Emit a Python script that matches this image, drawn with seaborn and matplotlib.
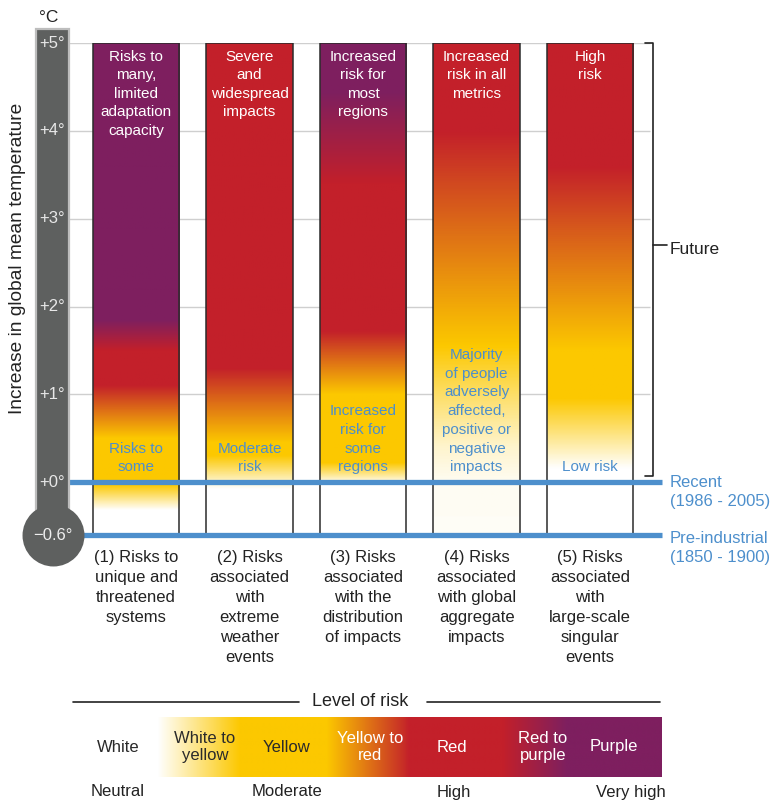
import numpy as np
import matplotlib
matplotlib.use("Agg")
import matplotlib.pyplot as plt
from matplotlib.colors import LinearSegmentedColormap
import seaborn as sns

# Reasons for concern (one bar each)
categories = [
    "(1) Risks to\nunique and\nthreatened\nsystems",
    "(2) Risks\nassociated\nwith\nextreme\nweather\nevents",
    "(3) Risks\nassociated\nwith the\ndistribution\nof impacts",
    "(4) Risks\nassociated\nwith global\naggregate\nimpacts",
    "(5) Risks\nassociated\nwith\nlarge-scale\nsingular\nevents",
]
top_labels = [
    "Risks to\nmany,\nlimited\nadaptation\ncapacity",
    "Severe\nand\nwidespread\nimpacts",
    "Increased\nrisk for\nmost\nregions",
    "Increased\nrisk in all\nmetrics",
    "High\nrisk",
]
low_labels = [
    "Risks to\nsome",
    "Moderate\nrisk",
    "Increased\nrisk for\nsome\nregions",
    "Majority\nof people\nadversely\naffected,\npositive or\nnegative\nimpacts",
    "Low risk",
]

# colour stops in each bar: temperature (°C) -> risk level (0 white, 1 yellow, 2 red, 3 purple)
stop_temps = [
    [-0.6, -0.32, -0.03, 0.5, 1.1, 1.5, 1.85, 5.0],
    [-0.6, -0.08, 0.3, 0.45, 1.3, 5.0],
    [-0.6, -0.02, 0.22, 1.0, 1.72, 3.4, 4.45, 5.0],
    [-0.6, 0.0, 0.4, 1.0, 1.55, 4.0, 5.0],
    [-0.6, 0.15, 0.95, 1.5, 3.6, 5.0],
]
stop_levels = [
    [0, 0, 1, 1, 2, 2, 3, 3],
    [0, 0, 1, 1, 2, 2],
    [0, 0, 1, 1, 2, 2, 3, 3],
    [0.04, 0.06, 0.2, 0.6, 1.0, 2.0, 2.0],
    [0, 0, 1, 1, 2, 2],
]

grid_temps = [1, 2, 3, 4, 5]
tick_temps = [5, 4, 3, 2, 1, 0]
tick_labels = ["+5°", "+4°", "+3°", "+2°", "+1°", "+0°"]
recent = 0.0
preindustrial = -0.6
top_temp = 5.0
future_from = 0.07
future_mark = 2.7

legend_names = ["White", "White to\nyellow", "Yellow", "Yellow to\nred", "Red", "Red to\npurple", "Purple"]
legend_name_pos = [0.076, 0.224, 0.363, 0.504, 0.643, 0.798, 0.918]
legend_stop_pos = [0.0, 0.143, 0.284, 0.431, 0.572, 0.730, 0.839, 1.0]
legend_stop_levels = [0, 0, 1, 1, 2, 2, 3, 3]
scale_names = ["Neutral", "Moderate", "High", "Very high"]
scale_pos = [0.076, 0.363, 0.647, 0.947]

WHITE, YELLOW, RED, PURPLE = "#ffffff", "#fcc800", "#c3202a", "#7e1f5f"
BLUE = "#4d8fcc"
GREY = "#5e605f"

risk_cmap = LinearSegmentedColormap.from_list(
    "risk", [(0, WHITE), (1 / 3, YELLOW), (2 / 3, RED), (1, PURPLE)])

sns.set_theme(style="white")
plt.rcParams["font.family"] = ["Liberation Sans", "DejaVu Sans"]

W, H = 772, 802
fig = plt.figure(figsize=(W / 100, H / 100), dpi=100)


def box(x0, y0, x1, y1):
    return [x0 / W, 1 - y1 / H, (x1 - x0) / W, (y1 - y0) / H]


ax = fig.add_axes(box(68, 43, 661.6, 535))
bar_w = 0.76
heights = [top_temp - preindustrial] * len(categories)
sns.barplot(x=categories, y=heights, ax=ax, fill=False, color="#2b2b2b",
            linewidth=1.1, width=bar_w, bottom=preindustrial, errorbar=None, zorder=3)

tgrid = np.linspace(preindustrial, top_temp, 500)
for i in range(len(categories)):
    lv = np.interp(tgrid, stop_temps[i], stop_levels[i])
    ax.imshow(lv[:, None], extent=[i - bar_w / 2, i + bar_w / 2, preindustrial, top_temp],
              origin="lower", aspect="auto", cmap=risk_cmap, vmin=0, vmax=3,
              interpolation="bilinear", zorder=1)
    ax.text(i, 4.92, top_labels[i], ha="center", va="top", color="white",
            fontsize=11, linespacing=1.4, zorder=4)
    ax.text(i, 0.09, low_labels[i], ha="center", va="bottom", color=BLUE,
            fontsize=11, linespacing=1.43, zorder=4)

ax.hlines(grid_temps, -0.6, 4.53, color="#cfcfcf", lw=1, zorder=0)
ax.hlines([recent, preindustrial], -0.6, 4.63, color=BLUE, lw=3.8, zorder=5, clip_on=False)

# future bracket
bx = 4.554
ax.plot([bx - 0.07, bx, bx, bx - 0.07], [top_temp, top_temp, future_from, future_from],
        color="#222222", lw=1.2, clip_on=False, zorder=4)
ax.plot([bx, bx + 0.123], [future_mark, future_mark], color="#222222", lw=1.2, clip_on=False)
ax.text(4.70, future_mark - 0.05, "Future", ha="left", va="center", fontsize=12.5, color="#222222")
ax.text(4.70, recent + 0.08, "Recent\n(1986 - 2005)", ha="left", va="top", fontsize=12,
        linespacing=1.35, color=BLUE)
ax.text(4.70, preindustrial + 0.05, "Pre-industrial\n(1850 - 1900)", ha="left", va="top",
        fontsize=12, linespacing=1.35, color=BLUE)

ax.set_xlim(-0.6, 4.63)
ax.set_ylim(preindustrial, top_temp)
ax.tick_params(axis="x", length=0, pad=11, labelsize=12, labelcolor="#222222")
for lab in ax.get_xticklabels():
    lab.set_linespacing(1.42)
ax.tick_params(axis="y", left=False, labelleft=False)
ax.set_xlabel("")
ax.set_ylabel("")
sns.despine(ax=ax, left=True, bottom=True)

# thermometer
tax = fig.add_axes(box(36, 43, 69, 535), sharey=ax)
tax.patch.set_visible(False)
tax.bar(0, 5.16 - preindustrial, bottom=preindustrial, width=1, color=GREY,
        edgecolor="#bdbdbd", linewidth=1.6, clip_on=False)
tax.scatter([0], [preindustrial], s=1990, color=GREY, linewidths=0, clip_on=False, zorder=5)
for t, lab in zip(tick_temps, tick_labels):
    tax.text(0, t, lab, ha="center", va="center", color="#e8e8e8", fontsize=12, zorder=6)
tax.text(0, preindustrial, "\u22120.6°", ha="center", va="center", color="#eeeeee",
         fontsize=12, zorder=6)
tax.set_xlim(-0.5, 0.5)
tax.axis("off")

fig.text(18 / W, 1 - 258 / H, "Increase in global mean temperature", rotation=90,
         ha="center", va="center", fontsize=13.8, color="#222222")
fig.text(49 / W, 1 - 18 / H, "°C", ha="center", va="center", fontsize=12.5, color="#222222")

# level of risk legend
lax = fig.add_axes(box(73, 717, 662, 777))
xs = np.linspace(0, 1, 600)
lax.imshow(np.interp(xs, legend_stop_pos, legend_stop_levels)[None, :], extent=[0, 1, 0, 1],
           aspect="auto", cmap=risk_cmap, vmin=0, vmax=3, interpolation="bilinear")
lax.set_xlim(0, 1)
lax.set_ylim(0, 1)
lax.axis("off")
for name, pos in zip(legend_names, legend_name_pos):
    col = "#2a2a2a" if pos < 0.4 else "white"
    lax.text(pos, 0.5, name, ha="center", va="center", fontsize=12, color=col)
for name, pos in zip(scale_names, scale_pos):
    lax.text(pos, -0.25, name, ha="center", va="center", fontsize=12, color="#222222",
             clip_on=False)
lax.text(0.487, 1.25, "Level of risk", ha="center", va="center", fontsize=13, color="#222222")
lax.plot([0, 0.384], [1.25, 1.25], color="#222222", lw=1.2, clip_on=False)
lax.plot([0.601, 0.997], [1.25, 1.25], color="#222222", lw=1.2, clip_on=False)

fig.savefig("out.png", dpi=100)
